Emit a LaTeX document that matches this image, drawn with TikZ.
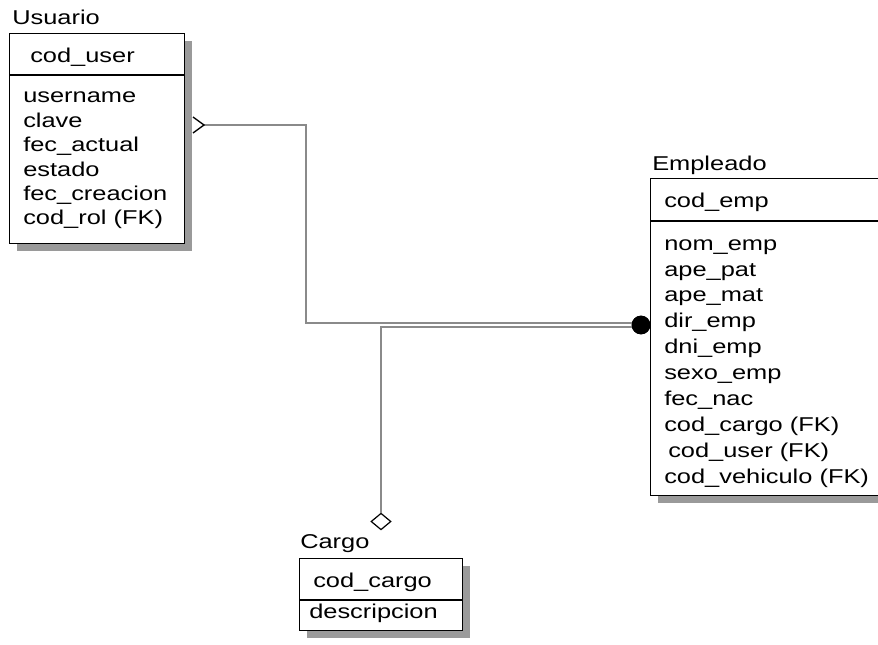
\documentclass[tikz,border=0pt]{standalone}
\usepackage{fontspec}
\setmainfont{Liberation Sans}[FakeStretch=1.27]
\usetikzlibrary{shapes.geometric, shadows, calc}
\definecolor{erLine}{HTML}{8A8A8A}
\definecolor{erShadow}{HTML}{9A9A9A}
\newcommand{\erfont}{\fontsize{15pt}{19.4pt}\selectfont}
\tikzset{
  ent/.style={draw, line width=1pt, fill=white, inner sep=0pt,
    drop shadow={shadow xshift=5.5pt, shadow yshift=-5.5pt,
      fill=erShadow, opacity=1}},
  entline/.style={line width=1pt},
  etitle/.style={font=\erfont, inner sep=0pt},
  attr/.style={font=\erfont, inner sep=0pt, align=left},
  rel/.style={draw=erLine, line width=0.8pt},
  crow/.style={line width=1pt, line join=miter},
  onedot/.style={circle, fill=black, inner sep=0pt, minimum size=14pt},
  opt/.style={diamond, draw, line width=0.9pt, fill=white, inner sep=0pt,
    minimum width=15pt, minimum height=12.5pt},
}

\begin{document}
\begin{tikzpicture}[x=0.75pt, y=-0.75pt]
  \useasboundingbox (0,0) rectangle (878,645);
  \clip (0,0) rectangle (878,645);

  % ---- Usuario -----------------------------------------------------------
  \node[ent, anchor=north west, minimum width=131.25pt, minimum height=157.5pt]
    (usr) at (9,33) {};
  \draw[entline] (usr.west |- 0,75) -- (usr.east |- 0,75);
  \node[etitle, anchor=base west] (usrT) at (12,25) {Usuario};
  \node[attr, anchor=base west] (usrK) at (30,63) {cod\_user};
  % multi-line texts sit on the baseline of their last line
  \node[attr, anchor=base west, font=\fontsize{15pt}{18.3pt}\selectfont]
    (usrA) at (23,225)
    {username\\clave\\fec\_actual\\estado\\fec\_creacion\\cod\_rol (FK)};

  % ---- Empleado ----------------------------------------------------------
  \node[ent, anchor=north west, minimum width=195pt, minimum height=237.75pt]
    (emp) at (650,178) {};
  \draw[entline] (emp.west |- 0,221) -- (emp.east |- 0,221);
  \node[etitle, anchor=base west] (empT) at (652,171) {Empleado};
  \node[attr, anchor=base west] (empK) at (664,208) {cod\_emp};
  \node[attr, anchor=base west] (empA) at (664,483)
    {nom\_emp\\ape\_pat\\ape\_mat\\dir\_emp\\dni\_emp\\sexo\_emp\\fec\_nac\\
     cod\_cargo (FK)\\\hspace{3pt}cod\_user (FK)\\cod\_vehiculo (FK)};

  % ---- Cargo -------------------------------------------------------------
  \node[ent, anchor=north west, minimum width=122.25pt, minimum height=54pt]
    (car) at (299,558) {};
  \draw[entline] (car.west |- 0,600) -- (car.east |- 0,600);
  \node[etitle, anchor=base west] (carT) at (300,548) {Cargo};
  \node[attr, anchor=base west] (carK) at (313,587) {cod\_cargo};
  \node[attr, anchor=base west] (carA) at (309,618) {descripcion};

  % ---- relationships -------------------------------------------------------
  \coordinate (usrEnd) at (204,125);
  \node[onedot] (dot) at (641,325) {};
  \node[opt] (dia) at (381,521.5) {};

  \draw[rel] (usrEnd) -- (306,125) |- ($(dot.center)+(0,-2)$);
  \draw[rel] (dia.north) |- ($(dot.center)+(0,2)$);
  % chevron on the Usuario side, dot redrawn on top of the lines
  \draw[crow] ($(usrEnd)+(-11,-8)$) -- (usrEnd) -- ($(usrEnd)+(-11,8)$);
  \node[onedot] at (dot) {};

\end{tikzpicture}
\end{document}
